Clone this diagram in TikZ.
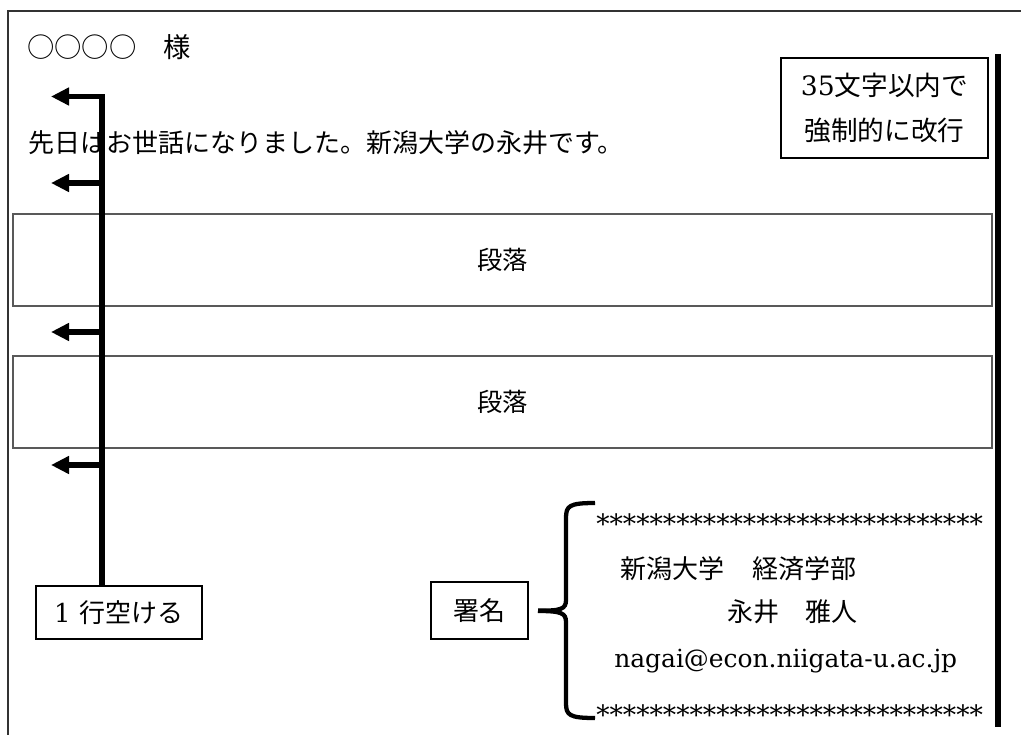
\documentclass[tikz,border=0pt]{standalone}
\usepackage{fontspec}
\newfontfamily\jp{Noto Sans CJK JP}
\newfontfamily\lat{DejaVu Serif}
\usetikzlibrary{arrows.meta}
\begin{document}
\begin{tikzpicture}[x=0.75pt,y=-0.75pt,
  txt/.style={inner sep=0pt,font=\jp\fontsize{19.5}{22}\selectfont},
  lattxt/.style={inner sep=0pt,font=\lat\fontsize{18.7}{22}\selectfont},
  parbox/.style={draw=black!65,line width=1.4pt,minimum width=734.25pt,minimum height=69pt,inner sep=0pt,font=\jp\fontsize{19}{22}\selectfont},
  smallbox/.style={draw=black,line width=1.1pt,inner sep=0pt,font=\jp\fontsize{19.5}{22}\selectfont},
  thickline/.style={line width=4.4pt},
  gaparrow/.style={thickline,-{Triangle[length=13.5pt,width=12.75pt]}},
  bracestyle/.style={line width=3.2pt}]
\useasboundingbox (0,0) rectangle (1021,735);
% outer frame
\draw[draw=black!80,line width=1.4pt] (8,736) -- (8,11) -- (1022,11);
% heading and first line
\node[txt,anchor=west,font=\jp\fontsize{20.5}{22}\selectfont] (to) at (27,47) {○○○○　様};
\node[txt,anchor=west] (greet) at (28,143) {先日はお世話になりました。新潟大学の永井です。};
% note box
\node[smallbox,minimum width=155.25pt,minimum height=75pt,align=center,
      font=\jp\fontsize{20}{33.75}\selectfont] (note) at (884.5,108)
  {{\lat 35}文字以内で\\強制的に改行};
% right limit line
\coordinate (rtop) at (998,54);
\coordinate (rbot) at (998,727);
\draw[line width=3.8pt] (rtop) -- (rbot);
% paragraphs
\node[parbox] (para1) at (502.5,260) {段落};
\node[parbox] (para2) at (502.5,402) {段落};
% blank-line box and arrows
\node[smallbox,minimum width=124.5pt,minimum height=39.75pt] (gap) at (119,612.5) {{\lat 1}\hspace{0.35em}行空ける};
\coordinate (spine) at (102,96.5);
\coordinate (a1) at (51,96.5);
\coordinate (b2) at (102,183);
\coordinate (a2) at (51,183);
\coordinate (b3) at (102,332);
\coordinate (a3) at (51,332);
\coordinate (b4) at (102,465);
\coordinate (a4) at (51,465);
\draw[gaparrow] (gap.north -| spine) -- (spine) -- (a1);
\draw[gaparrow] (b2) -- (a2);
\draw[gaparrow] (b3) -- (a3);
\draw[gaparrow] (b4) -- (a4);
% signature
\node[smallbox,minimum width=72.75pt,minimum height=42.75pt] (sign) at (479.5,610.5) {署名};
\node[lattxt,anchor=base west,font=\lat\fontsize{20}{22}\selectfont] (star1) at (596,533) {*****************************};
\node[txt,anchor=west] (univ) at (620,569) {新潟大学\hspace{1.1em}経済学部};
\node[txt,anchor=west] (name) at (727,612) {永井　雅人};
\node[lattxt,anchor=base west] (mail) at (614,667) {nagai@econ.niigata-u.ac.jp};
\node[lattxt,anchor=base west,font=\lat\fontsize{20}{22}\selectfont] (star2) at (596,724) {*****************************};
\coordinate (btop) at (595,503);
\coordinate (bbot) at (595,718);
\draw[bracestyle] (btop) .. controls (569,503) and (566,506) .. (566,518) -- (566,600)
  .. controls (566,609) and (561,611) .. (sign.east -| 538,0);
\draw[bracestyle] (bbot) .. controls (569,718) and (566,715) .. (566,703) -- (566,622)
  .. controls (566,613) and (561,611) .. (538,611);
\end{tikzpicture}
\end{document}
